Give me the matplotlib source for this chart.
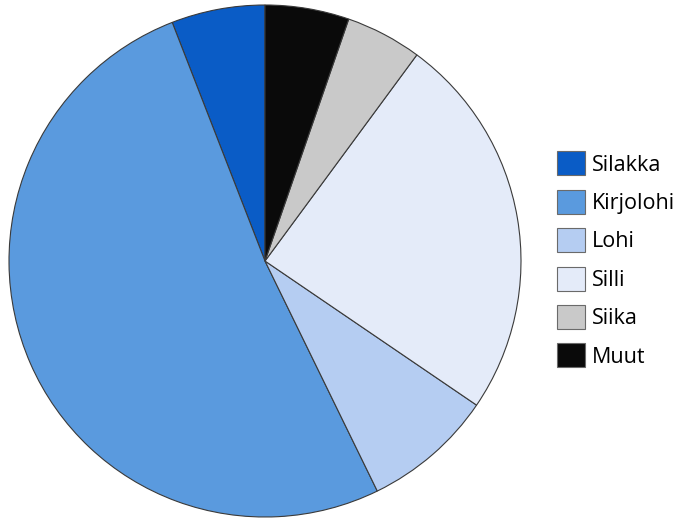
import matplotlib
matplotlib.use("Agg")
import matplotlib.pyplot as plt

labels = ["Silakka", "Kirjolohi", "Lohi", "Silli", "Siika", "Muut"]
values = [5.9, 51.3, 8.25, 24.4, 4.8, 5.3]
colors = ["#0a5cc6", "#5a9ade", "#b5cdf2", "#e4ebf9", "#c9c9c9", "#0a0a0a"]

plt.rcParams['font.family'] = ['Open Sans', 'DejaVu Sans']

W, H = 679, 518
fig = plt.figure(figsize=(W/100, H/100), dpi=100)
cx, cy, r = 265, 261, 256
ax = fig.add_axes([(cx - r)/W, (H - cy - r)/H, 2*r/W, 2*r/H])
wedges, _ = ax.pie(values, colors=colors, startangle=90, counterclock=True,
                   radius=1.0,
                   wedgeprops=dict(edgecolor="#3a3a3a", linewidth=0.8))
ax.set_xlim(-1, 1)
ax.set_ylim(-1, 1)
ax.set_aspect('equal')
ax.axis('off')

leg = fig.legend(wedges, labels, loc='upper left',
                 bbox_to_anchor=(538/W, 1 - 132/H),
                 frameon=False, fontsize=15.5,
                 handlelength=1.3, handleheight=1.34,
                 labelspacing=0.66, handletextpad=0.32)
for h in leg.legend_handles:
    h.set_edgecolor("#6a6a6a")
    h.set_linewidth(0.8)

fig.savefig("out.png", dpi=100)
